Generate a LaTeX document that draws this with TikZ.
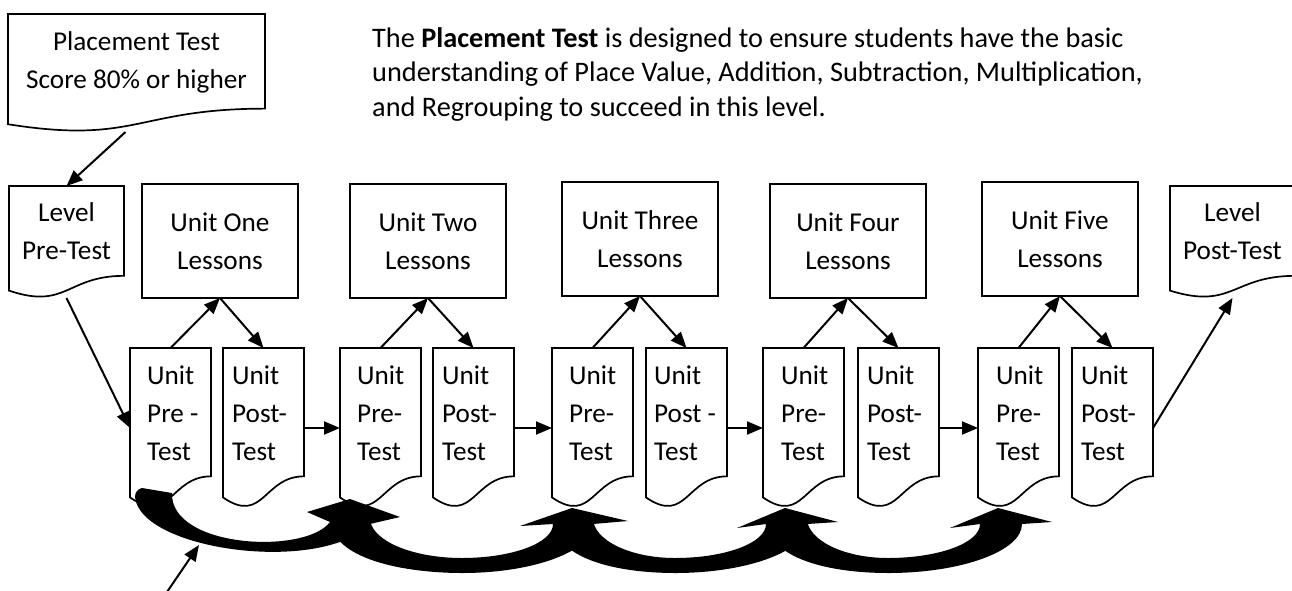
\documentclass[tikz,border=0pt]{standalone}
\usepackage{fontspec}
\setmainfont{Carlito}
\usetikzlibrary{arrows.meta,calc}
\newcommand\docoutline[1]{%
  \path[docline] let \p1=(#1.north west), \p2=(#1.south east), \n1={\y1-\y2} in
    (\x1,\y1) -- (\x2,\y1) -- ({\x2},{\y1-0.802*\n1})
    .. controls ({(\x1+\x2)/2},{\y1-0.802*\n1}) and ({(\x1+\x2)/2},{\y1-1.1075*\n1}) ..
    ({\x1},{\y1-0.934*\n1}) -- cycle;}
\begin{document}
\begin{tikzpicture}[x=1pt,y=-1pt,
  docline/.style={draw=black, line width=1.7pt, fill=white, line join=miter},
  boxfont/.style={font=\fontsize{27.2}{38}\selectfont},
  doctext/.style={boxfont, align=left, inner sep=0pt},
  doccenter/.style={boxfont, align=center, inner sep=0pt},
  docarea/.style={inner sep=0pt, outer sep=0pt},
  unitdoc/.style={docarea, minimum width=81pt, minimum height=160pt},
  lessbox/.style={draw, line width=2.2pt, minimum width=156pt, minimum height=114pt, boxfont, align=center, inner sep=0pt, outer sep=0pt, fill=white},
  conn/.style={line width=2pt, -{Triangle[length=16pt,width=13pt]}},
  bigarr/.style={fill=black, draw=none}]
\useasboundingbox (0,0) rectangle (1292,590);

% lesson boxes
\node[lessbox] (les1) at (220,241) {Unit One\\Lessons};
\node[lessbox] (les2) at (428,241) {Unit Two\\Lessons};
\node[lessbox] (les3) at (640,239) {Unit Three\\Lessons};
\node[lessbox] (les4) at (848,241) {Unit Four\\Lessons};
\node[lessbox] (les5) at (1060,239) {Unit Five\\Lessons};

% document areas
\node[docarea, minimum width=257pt, minimum height=118pt] (place) at (136.5,73) {};
\node[docarea, minimum width=115pt, minimum height=112pt] (levpre) at (66.5,242) {};
\node[docarea, minimum width=125pt, minimum height=112pt] (levpost) at (1232.5,242) {};
\node[unitdoc] (pre1) at (170.5,428) {};
\node[unitdoc] (post1) at (263.5,428) {};
\node[unitdoc] (pre2) at (380.5,428) {};
\node[unitdoc] (post2) at (473.5,428) {};
\node[unitdoc] (pre3) at (592.5,428) {};
\node[unitdoc] (post3) at (686.5,428) {};
\node[unitdoc] (pre4) at (803.5,428) {};
\node[unitdoc] (post4) at (898.5,428) {};
\node[unitdoc] (pre5) at (1018.5,428) {};
\node[unitdoc] (post5) at (1112.5,428) {};
\foreach \d in {place,levpre,levpost,pre1,post1,pre2,post2,pre3,post3,pre4,post4,pre5,post5}{\docoutline{\d}}

% document texts
\node[doccenter] (placet) at (136.5,62) {Placement Test\\Score 80\% or higher};
\node[doccenter] (levpret) at (66.5,231) {Level\\Pre-Test};
\node[doccenter] (levpostt) at (1232.5,231) {Level\\Post-Test};
\node[doctext, anchor=west] (pre1t) at (147,413) {Unit\\Pre -\\Test};
\node[doctext, anchor=west] (post1t) at (232,413) {Unit\\Post-\\Test};
\node[doctext, anchor=west] (pre2t) at (357,413) {Unit\\Pre-\\Test};
\node[doctext, anchor=west] (post2t) at (442,413) {Unit\\Post-\\Test};
\node[doctext, anchor=west] (pre3t) at (569,413) {Unit\\Pre-\\Test};
\node[doctext, anchor=west] (post3t) at (654,413) {Unit\\Post -\\Test};
\node[doctext, anchor=west] (pre4t) at (781,413) {Unit\\Pre-\\Test};
\node[doctext, anchor=west] (post4t) at (867,413) {Unit\\Post-\\Test};
\node[doctext, anchor=west] (pre5t) at (996,413) {Unit\\Pre-\\Test};
\node[doctext, anchor=west] (post5t) at (1081,413) {Unit\\Post-\\Test};

% description
\node[anchor=north west, inner sep=0pt, align=left, font=\fontsize{28.3}{34.5}\selectfont] (desc) at (372,27)
 {The \textbf{Placement Test} is designed to ensure students have the basic\\
  understanding of Place Value, Addition, Subtraction, Multiplication,\\
  and Regrouping to succeed in this level.};

% connectors
\draw[conn] ([xshift=-11pt]place.south) -- (levpre.north);
\draw[conn] (levpre.south) -- (pre1.west);
\foreach \i in {1,...,5}{
  \draw[conn] (pre\i.north) -- (les\i.south);
  \draw[conn] (les\i.south) -- (post\i.north);
}
\draw[conn] (post1.east) -- (pre2.west);
\draw[conn] (post2.east) -- (pre3.west);
\draw[conn] (post3.east) -- (pre4.west);
\draw[conn] (post4.east) -- (pre5.west);
\draw[conn] (post5.east) -- (levpost.south);

% big curved arrows
\fill[bigarr] (142,488) -- (172,493)
  .. controls (170,548) and (305,555) .. (330,522)
  -- (307,512) -- (350,499) -- (400,517) -- (370,524)
  .. controls (320,575) and (140,550) .. (135,497)
  .. controls (135,492) and (138,489) .. cycle;
\foreach \xo/\xi/\xc/\xl/\xr/\lx/\ly/\tx/\rx/\ry in {
   330/370/462/553/593/520/526/572/628/521,
   553/593/675/766/807/737/528/785/838/522,
   766/807/888/980/1022/950/528/998/1052/522}{
  \fill[bigarr] (\xo,518) .. controls (\xo,560) and (\xc-55,573) .. (\xc,573)
    .. controls ({\xc+0.55*(\xr-\xc)},573) and (\xr,551) .. (\xr,524)
    -- (\rx,\ry) -- (\tx,508) -- (\lx,\ly) -- (\xl,524)
    .. controls (\xl,543) and ({\xc+0.55*(\xl-\xc)},558) .. (\xc,558)
    .. controls ({\xc-0.55*(\xc-\xi)},558) and (\xi,540) .. (\xi,518) -- cycle;
}

% pointer arrow
\coordinate (noteEnd) at (167,592);
\coordinate (noteTip) at (199,545);
\draw[conn] (noteEnd) -- (noteTip);
\end{tikzpicture}
\end{document}
